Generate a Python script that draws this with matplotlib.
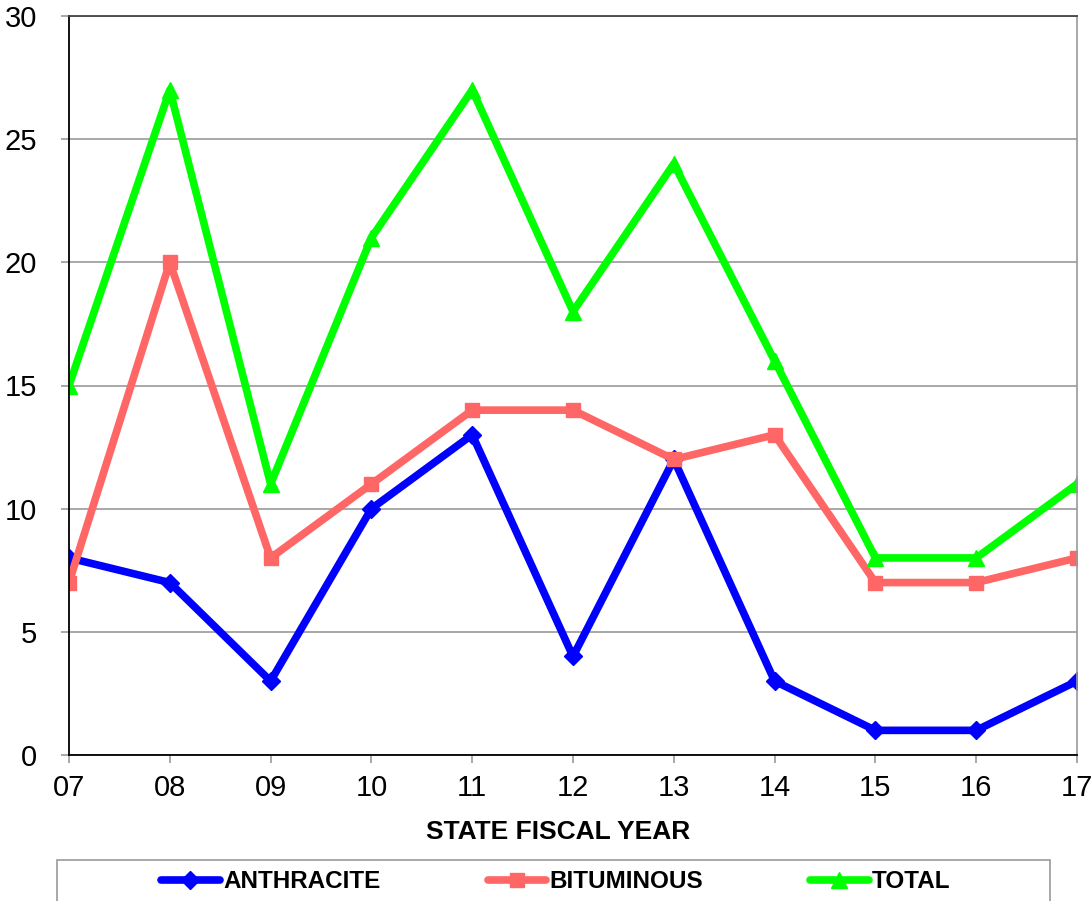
import matplotlib
matplotlib.use('Agg')
import matplotlib.pyplot as plt
from matplotlib.patches import Rectangle

plt.rcParams['font.family'] = ['Liberation Sans', 'DejaVu Sans']

YEARS = ['07', '08', '09', '10', '11', '12', '13', '14', '15', '16', '17']
ANTHRACITE = [8, 7, 3, 10, 13, 4, 12, 3, 1, 1, 3]
BITUMINOUS = [7, 20, 8, 11, 14, 14, 12, 13, 7, 7, 8]
TOTAL = [15, 27, 11, 21, 27, 18, 24, 16, 8, 8, 11]


def main():
    fig = plt.figure(figsize=(10.91, 9.01), dpi=100)
    ax = fig.add_axes([69 / 1091, 146 / 901, 1008 / 1091, 739 / 901])
    xs = range(len(YEARS))

    ax.plot(xs, ANTHRACITE, color='#0000ff', lw=5.5, marker='D', ms=9,
            label='ANTHRACITE', solid_capstyle='round')
    ax.plot(xs, BITUMINOUS, color='#ff6666', lw=5.5, marker='s', ms=10,
            label='BITUMINOUS', solid_capstyle='round')
    ax.plot(xs, TOTAL, color='#00ff00', lw=5.5, marker='^', ms=11,
            label='TOTAL', solid_capstyle='round')

    ax.set_xlim(0, len(YEARS) - 1)
    ax.set_ylim(0, 30)
    ax.set_xticks(list(xs))
    ax.set_xticklabels(YEARS)
    ax.set_yticks(range(0, 31, 5))
    ax.yaxis.grid(True, color='#999999', lw=1.2)
    ax.set_axisbelow(True)
    ax.tick_params(axis='both', labelsize=21, length=6, color='#999999', width=1.2)
    ax.tick_params(axis='y', pad=17)
    ax.tick_params(axis='x', pad=8)

    for side in ('left', 'bottom', 'top'):
        ax.spines[side].set_color('black')
        ax.spines[side].set_linewidth(1.3)
    ax.spines['top'].set_color('#444444')
    ax.spines['right'].set_color('#999999')
    ax.spines['right'].set_linewidth(1.2)

    fig.text(558 / 1091, 69 / 901, 'STATE FISCAL YEAR', ha='center', va='center',
             fontsize=19, fontweight='bold')

    # legend box runs off the bottom of the figure
    fig.patches.append(Rectangle((57 / 1091, -0.05), 993 / 1091, 0.05 + 41 / 901,
                                 transform=fig.transFigure, fill=False,
                                 edgecolor='#999999', lw=1.2))
    fig.legend(loc='center', bbox_to_anchor=(556 / 1091, 19 / 901), ncol=3,
               frameon=False, prop={'size': 17.5, 'weight': 'bold'},
               handlelength=2.4, handletextpad=0.15, columnspacing=4.4,
               borderpad=0, borderaxespad=0)

    fig.savefig('out.png', dpi=100)


if __name__ == '__main__':
    main()
